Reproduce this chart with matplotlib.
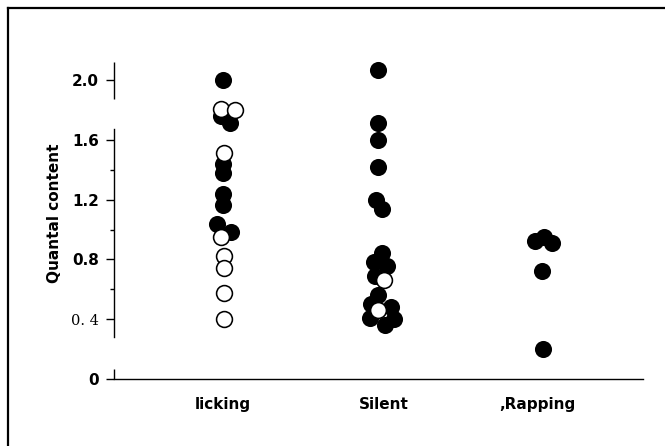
import matplotlib
matplotlib.use("Agg")
import matplotlib.pyplot as plt
from matplotlib.lines import Line2D

# Quantal content per group; filled and open symbols are separate series
groups = ["licking", "Silent", ",Rapping"]

licking_filled = [2.00, 1.76, 1.71, 1.44, 1.38, 1.235, 1.165, 1.04, 0.985]
licking_filled_dx = [0, -2, 7, 0, 0, 0, 0, -6, 8]
licking_open = [1.805, 1.80, 1.515, 0.948, 0.82, 0.74, 0.577, 0.398]
licking_open_dx = [-2, 12, 1, -2, 1, 1, 1, 1]

silent_filled = [2.067, 1.71, 1.60, 1.42, 1.197, 1.135, 0.845, 0.785, 0.755,
                 0.69, 0.565, 0.50, 0.48, 0.41, 0.40, 0.362]
silent_filled_dx = [0, 0, 0, 0, -2, 4, 4, -4, 9, -3, 0, -7, 13, -8, 16, 7]
silent_open = [0.662, 0.46]
silent_open_dx = [6, 0]

rapping_filled = [0.925, 0.95, 0.91, 0.725, 0.199]
rapping_filled_dx = [-7, 2, 10, 0, 1]

yticks = [0, 0.4, 0.8, 1.2, 1.6, 2.0]
yticklabels = ["0", "0. 4", "0.8", "1.2", "1.6", "2.0"]
yminor = [0.6, 1.0, 1.4]

# layout
W, H, DPI = 665, 446, 100
PX_PER_UNIT = 155.0          # horizontal pixels per category unit
group_x = [1.0, 2.0, 3.06]
label_x = [1.0, 2.04, 3.03]

fig = plt.figure(figsize=(W / DPI, H / DPI), dpi=DPI)
fig.patch.set_facecolor("white")

ax_left, ax_right, ax_bottom, ax_top = 114, 643, 379, 50
ax = fig.add_axes([ax_left / W, (H - ax_bottom) / H,
                   (ax_right - ax_left) / W, (ax_bottom - ax_top) / H])
ax.set_ylim(0, (ax_bottom - ax_top) / 149.5)
ax.set_xlim((ax_left - 68) / PX_PER_UNIT, (ax_right - 68) / PX_PER_UNIT)


def place(gx, offsets):
    # jitter given in pixels, converted to category units
    return [gx + o / PX_PER_UNIT for o in offsets]


filled_kw = dict(ls="none", marker="o", ms=12.3, mfc="black", mec="black",
                 mew=0.0, clip_on=False, zorder=3)
open_kw = dict(ls="none", marker="o", ms=11.4, mfc="white", mec="black",
               mew=1.15, clip_on=False, zorder=4)

ax.plot(place(group_x[0], licking_filled_dx), licking_filled, **filled_kw)
ax.plot(place(group_x[1], silent_filled_dx), silent_filled, **filled_kw)
ax.plot(place(group_x[2], rapping_filled_dx), rapping_filled, **filled_kw)
ax.plot(place(group_x[0], licking_open_dx), licking_open, **open_kw)
ax.plot(place(group_x[1], silent_open_dx), silent_open, **open_kw)

# axes styling
for s in ("top", "right"):
    ax.spines[s].set_visible(False)
ax.spines["bottom"].set_linewidth(1.0)
ax.spines["left"].set_linewidth(1.0)
ax.spines["left"].set_bounds(0.281, 1.672)

# broken pieces of the y axis line
ytr = ax.get_yaxis_transform()
for lo, hi in [(1.873, 2.12), (0.0, 0.067)]:
    ax.plot([0, 0], [lo, hi], color="black", lw=1.0, transform=ytr,
            clip_on=False, solid_capstyle="butt")

ax.set_yticks(yticks)
ax.set_yticklabels(yticklabels)
ax.set_yticks(yminor, minor=True)
ax.tick_params(axis="y", which="major", direction="out", length=5.8,
               width=1.0, pad=5, labelsize=11)
ax.tick_params(axis="y", which="minor", direction="out", length=3,
               width=1.0)
for lab in ax.get_yticklabels():
    if lab.get_text() == "0. 4":
        lab.set_fontfamily("DejaVu Serif")
        lab.set_fontweight("normal")
        lab.set_fontsize(10.5)
    else:
        lab.set_fontfamily("DejaVu Sans")
        lab.set_fontweight("bold")

ax.set_xticks(label_x)
ax.set_xticklabels(groups)
ax.tick_params(axis="x", length=0, pad=13, labelsize=11)
for lab in ax.get_xticklabels():
    lab.set_fontweight("bold")

fig.text(55 / W, 1 - 213 / H, "Quantal content", rotation=90, ha="center",
         va="center", fontsize=11, fontweight="bold")

# frame lines along the top and left edges
fx, fy = 7.5 / W, 1 - 7.5 / H
fig.add_artist(Line2D([fx, fx], [0, fy], color="black", lw=1.6,
                      transform=fig.transFigure))
fig.add_artist(Line2D([fx, 1], [fy, fy], color="black", lw=1.6,
                      transform=fig.transFigure))

fig.savefig("out.png", dpi=DPI, facecolor="white")
